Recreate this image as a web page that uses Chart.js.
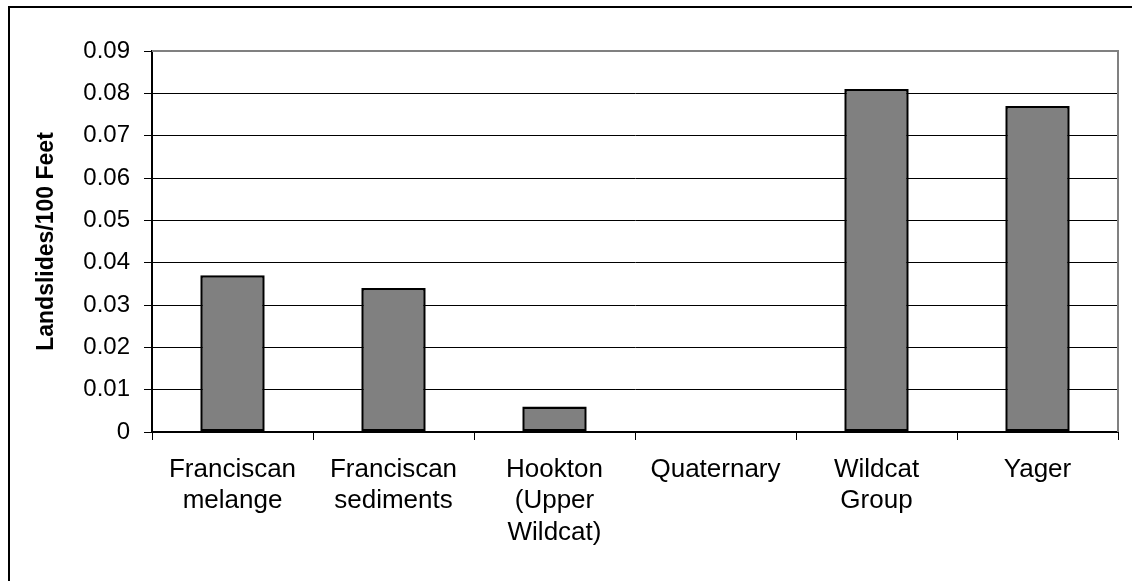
<!DOCTYPE html>
<html lang="en">
<head>
  <meta charset="UTF-8">
  <title>Landslides per 100 feet</title>
  <script src="https://cdn.jsdelivr.net/npm/chart.js"></script>
  <style>
    html, body { margin: 0; padding: 0; background: #fff; }
    #wrap { width: 1132px; height: 581px; position: relative; }
  </style>
</head>
<body>
  <div id="wrap"><canvas id="myChart"></canvas></div>
  <script>
    // data
    const categories = [
      ['Franciscan', 'melange'],
      ['Franciscan', 'sediments'],
      ['Hookton', '(Upper', 'Wildcat)'],
      ['Quaternary'],
      ['Wildcat', 'Group'],
      ['Yager']
    ];
    const landslides = [0.037, 0.034, 0.006, 0, 0.081, 0.077];
    const yMin = 0, yMax = 0.09, yStep = 0.01;

    const FONT = "'Liberation Sans', Arial, sans-serif";

    // frame lines: outer border (top + left) and grey plot border (top + right)
    const frames = {
      id: 'frames',
      afterDraw(chart) {
        const c = chart.ctx, a = chart.chartArea;
        c.save();
        c.strokeStyle = '#808080';
        c.lineWidth = 2;
        c.beginPath();
        c.moveTo(a.left, a.top);
        c.lineTo(a.right, a.top);
        c.lineTo(a.right, a.bottom);
        c.stroke();
        c.strokeStyle = '#000';
        c.lineWidth = 2;
        c.beginPath();
        c.moveTo(9, chart.height);
        c.lineTo(9, 7);
        c.lineTo(chart.width, 7);
        c.stroke();
        c.restore();
      }
    };

    const ctx = document.getElementById('myChart');
    new Chart(ctx, {
      type: 'bar',
      data: {
        labels: categories,
        datasets: [{
          label: 'Landslides/100 Feet',
          data: landslides,
          backgroundColor: '#808080',
          borderColor: '#000',
          borderWidth: 2.5,
          borderSkipped: false,
          barPercentage: 0.4,
          categoryPercentage: 1
        }]
      },
      options: {
        responsive: true,
        maintainAspectRatio: false,
        animation: false,
        layout: { padding: { top: 51, right: 14, left: 29, bottom: 0 } },
        plugins: {
          legend: { display: false },
          tooltip: { enabled: false }
        },
        scales: {
          x: {
            grid: {
              offset: true,
              drawOnChartArea: false,
              drawTicks: true,
              tickLength: 8,
              tickColor: '#000'
            },
            border: { color: '#000', width: 2 },
            ticks: {
              color: '#000',
              font: { family: FONT, size: 26, lineHeight: 1.21 },
              padding: 14,
              maxRotation: 0,
              autoSkip: false
            },
            afterFit(scale) { scale.height = 149; }
          },
          y: {
            min: yMin,
            max: yMax,
            grid: {
              color: '#000',
              lineWidth: 1,
              tickLength: 8,
              tickColor: '#000'
            },
            border: { color: '#000', width: 2 },
            ticks: {
              stepSize: yStep,
              color: '#000',
              font: { family: FONT, size: 24 },
              padding: 14,
              callback: v => v === 0 ? '0' : v.toFixed(2)
            },
            title: {
              display: true,
              text: 'Landslides/100 Feet',
              color: '#000',
              font: { family: FONT, size: 23, weight: 'bold' },
              padding: { top: 4, bottom: 0 }
            },
            afterFit(scale) { scale.width = 123; }
          }
        }
      },
      plugins: [frames]
    });
  </script>
</body>
</html>
